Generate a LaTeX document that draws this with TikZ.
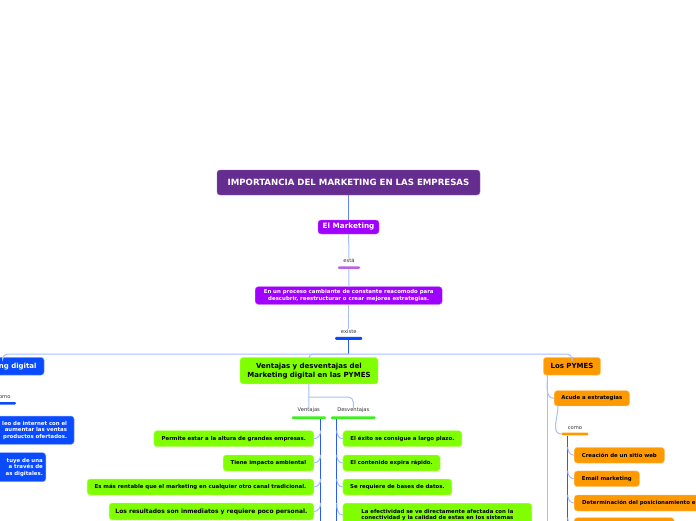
\documentclass[tikz,border=0pt]{standalone}
\usepackage{fontspec}
\setmainfont{DejaVu Sans}
\usetikzlibrary{positioning}
\definecolor{titlepurple}{RGB}{102,45,145}
\definecolor{mkviolet}{RGB}{160,0,255}
\definecolor{barviolet}{RGB}{185,100,230}
\definecolor{mkblue}{RGB}{10,75,255}
\definecolor{mkgreen}{RGB}{128,255,0}
\definecolor{bargreen}{RGB}{60,240,30}
\definecolor{mkorange}{RGB}{255,153,0}
\definecolor{linkblue}{RGB}{165,190,255}
\definecolor{spineblue}{RGB}{40,90,255}
\tikzset{
  box/.style={rounded corners=3pt,inner sep=0pt,align=center,font=\bfseries\fontsize{5.4}{6.5}\selectfont},
  headfont/.style={font=\bfseries\fontsize{7}{9}\selectfont},
  titlebox/.style={box,fill=titlepurple,draw=titlepurple!70!white,text=white,font=\bfseries\fontsize{8.6}{10}\selectfont},
  vbox/.style={box,fill=mkviolet,draw=mkviolet!60!white,text=white},
  gbox/.style={box,fill=mkgreen,draw=mkgreen!50!white,text=black},
  obox/.style={box,fill=mkorange,draw=mkorange!50!white,text=black},
  bbox/.style={box,fill=mkblue,draw=mkblue!50!white,text=white},
  lbl/.style={inner sep=0pt,text=black!80,font=\fontsize{5.2}{6}\selectfont},
  bar/.style={fill=#1,inner sep=0pt,minimum height=2.6pt,rounded corners=1pt},
  link/.style={draw=linkblue,line width=1pt},
  spine/.style={draw=spineblue,line width=1.3pt},
}
\begin{document}
\begin{tikzpicture}[x=1pt,y=-1pt]
\useasboundingbox (0,0) rectangle (696,520);
\clip (0,0) rectangle (696,520);
% centre column
\node[titlebox,minimum width=263,minimum height=25] (title) at (348.5,182.5) {IMPORTANCIA DEL MARKETING EN LAS EMPRESAS};
\node[vbox,font=\bfseries\fontsize{7.3}{9}\selectfont,minimum width=61,minimum height=14] (mkt) at (348.5,227) {El Marketing};
\node[bar=barviolet,minimum width=22] (estabar) at (349,267.6) {};
\node[lbl,above=3pt of estabar] (esta) {está};
\node[vbox,minimum width=187,minimum height=17.6] (proc) at (348.7,295.5) {En un proceso cambiante de constante reacomodo para\\descubrir, reestructurar o crear mejores estrategias.};
\node[bar=mkblue,minimum width=27,minimum height=3] (existebar) at (348.7,338.3) {};
\node[lbl,above=3pt of existebar] (existe) {existe};
\coordinate (hub) at (348.7,354);
\draw[spine,draw=spineblue!75!white] (title) -- (mkt);
\draw[link] (mkt) -- (esta);
\draw[link] (estabar) -- (proc);
\draw[link] (proc) -- (existe);
\draw[spine] (existebar) -- (hub);
% first level
\node[bbox,headfont,anchor=east,inner xsep=7.5pt,minimum height=17.7] (mdig) at (44.3,366.2) {Marketing digital};
\node[gbox,headfont,minimum width=138,minimum height=26.5] (vd) at (309,370.7) {Ventajas y desventajas del\\Marketing digital en las PYMES};
\node[obox,headfont,minimum width=57.4,minimum height=17.7] (pymes) at (572,366.2) {Los PYMES};
\draw[link,rounded corners=5] (mdig.north) |- (hub) -| (pymes.north);
\draw[link,rounded corners=4] (hub) -| (vd.north);
% marketing digital
\node[bar=mkblue,anchor=east,minimum width=25] (lcomobar) at (16,403.3) {};
\node[lbl,above=3pt of lcomobar] (lcomo) {como};
\node[bbox,anchor=east,align=right,text width=90,inner xsep=7pt,minimum height=28.3] (b1) at (74.3,430.2) {leo de internet con el\\aumentar las ventas\\productos ofertados.};
\node[bbox,anchor=east,align=right,text width=60,inner xsep=3pt,minimum height=29] (b2) at (46,467.2) {tuye de una\\a través de\\as digitales.};
% ventajas y desventajas
\node[bar=bargreen,minimum width=34] (ventbar) at (308.8,417.7) {};
\node[lbl,above=3pt of ventbar] (vent) {Ventajas};
\node[bar=bargreen,minimum width=44.7] (desvbar) at (353.3,417.7) {};
\node[lbl,above=3pt of desvbar] (desv) {Desventajas};
\coordinate (vdfork) at (309,397);
\draw[link] (vd) -- (vent);
\draw[link,rounded corners=5] (vdfork) -| (desv.north);
\coordinate (vend) at (320.7,525);
\coordinate (dend) at (336.7,525);
\draw[spine] (vend |- ventbar.south) -- (vend);
\draw[spine] (dend |- desvbar.south) -- (dend);
\node[gbox,anchor=east,minimum width=160,minimum height=16] (v1) at (314,438.7) {Permite estar a la altura de grandes empresas.};
\node[gbox,anchor=east,minimum width=90.7,minimum height=16] (v2) at (314,463) {Tiene impacto ambiental};
\node[gbox,anchor=east,minimum width=226.7,minimum height=16] (v3) at (314,487) {Es más rentable que el marketing en cualquier otro canal tradicional.};
\node[gbox,anchor=east,font=\bfseries\fontsize{6}{7}\selectfont,minimum width=204.7,minimum height=17] (v4) at (314,511.5) {Los resultados son inmediatos y requiere poco personal.};
\node[gbox,anchor=west,minimum width=119,minimum height=16] (d1) at (342.7,438.7) {El éxito se consigue a largo plazo.};
\node[gbox,anchor=west,minimum width=97.3,minimum height=16] (d2) at (342.7,463) {El contenido expira rápido.};
\node[gbox,anchor=west,minimum width=109,minimum height=16] (d3) at (342.7,487) {Se requiere de bases de datos.};
\node[gbox,anchor=north west,minimum width=189,inner ysep=6pt] (d4) at (342.7,503) {La efectividad se ve directamente afectada con la\\conectividad y la calidad de estas en los sistemas};
\foreach \n in {v1,v2,v3,v4}
  \draw[link] (vend |- \n.north) to[out=-90,in=0] (\n.east);
\foreach \n in {d1,d2,d3,d4}
  \draw[link] (dend |- \n.north) to[out=-90,in=180] (\n.west);
% pymes
\node[obox,anchor=west,minimum width=75.3,minimum height=15.3] (acude) at (554,398.3) {Acude a estrategias};
\coordinate (pend) at (547.5,525);
\draw[link] (pend |- pymes.south) -- (pend);
\draw[link] (pend |- pymes.south) to[out=-90,in=180] (acude.west);
\node[bar=mkorange,minimum width=26.7] (comobar) at (575,434) {};
\node[lbl,above=3pt of comobar] (como) {como};
\draw[link] ([xshift=4pt]acude.south west) to[out=-90,in=180] (comobar.west);
\coordinate (cend) at (567.7,525);
\draw[spine] (cend |- comobar.south) -- (cend);
\node[obox,anchor=west,minimum width=90.3,minimum height=15.7] (o1) at (574,455.2) {Creación de un sitio web};
\node[obox,anchor=west,minimum width=65.3,minimum height=15.7] (o2) at (574,478.8) {Email marketing};
\node[obox,anchor=west,align=left,text width=150,inner xsep=8pt,minimum height=16] (o3) at (574,503) {Determinación del posicionamiento e};
\node[obox,anchor=north west,minimum width=100,minimum height=16] (o4) at (574,517.5) {};
\foreach \n in {o1,o2,o3,o4}
  \draw[link] (cend |- \n.north) to[out=-90,in=180] (\n.west);
\end{tikzpicture}
\end{document}
